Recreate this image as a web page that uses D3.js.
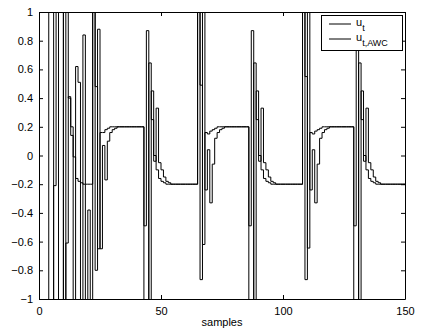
<!DOCTYPE html>
<html>
<head>
<meta charset="utf-8">
<script src="https://cdn.jsdelivr.net/npm/d3@7"></script>
<style>
  html, body { margin: 0; padding: 0; background: #fff; }
  svg { display: block; }
  text { font-family: "Liberation Sans", Arial, Helvetica, sans-serif; }
</style>
</head>
<body>
<svg id="chart" width="422" height="334"></svg>
<script>
// ---- data ----
const samples = d3.range(0, 151);

const u_t = [
  3, 3, 3, 3, 3, 3, -3, -3, 3, 3,
  -3, 3, 0.40, 0.2, -3, 0.62, 0.51, -3, 0.84, -3,
  -0.38, -3, 3, -0.8, 0.88, -0.65, 0.07, -0.17, 0.1, 0.16,
  0.18, 0.19, 0.2, 0.2, 0.2, 0.2, 0.2, 0.2, 0.2, 0.2,
  0.2, 0.2, 0.2, -0.49, 0.87, -3, 0.45, -0.04, 0.33, -0.05,
  -0.1, -0.15, -0.18, -0.19, -0.2, -0.2, -0.2, -0.2, -0.2, -0.2,
  -0.2, -0.2, -0.2, -0.2, -0.2, 3, -0.865, 3, -0.24, 0.04,
  -0.33, -0.06, 0.12, 0.16, 0.18, 0.19, 0.2, 0.2, 0.2, 0.2,
  0.2, 0.2, 0.2, 0.2, 0.2, 0.2, -0.49, 0.87, -3, 0.45,
  -0.04, 0.33, -0.05, -0.1, -0.15, -0.18, -0.19, -0.2, -0.2, -0.2,
  -0.2, -0.2, -0.2, -0.2, -0.2, -0.2, -0.2, -0.2, 3, -0.865,
  3, -0.24, 0.04, -0.33, -0.06, 0.12, 0.16, 0.18, 0.19, 0.2,
  0.2, 0.2, 0.2, 0.2, 0.2, 0.2, 0.2, 0.2, 0.2, -0.49,
  0.87, -3, 0.45, -0.04, 0.33, -0.05, -0.1, -0.15, -0.18, -0.19,
  -0.2, -0.2, -0.2, -0.2, -0.2, -0.2, -0.2, -0.2, -0.2, -0.2,
  -0.2
];

const u_t_awc = [
  3, 3, 3, 3, -3, -3, -0.21, 3, 3, 3,
  -3, -0.61, 0.41, 0.14, -0.01, -0.16, -0.18, -0.19, -0.2, -0.2,
  -0.2, -0.2, 3, 0.48, -0.65, 0.16, 0.16, 0.18, 0.19, 0.2,
  0.2, 0.2, 0.2, 0.2, 0.2, 0.2, 0.2, 0.2, 0.2, 0.2,
  0.2, 0.2, 0.2, -3, -3, 0.645, 0.25, 0.0, -0.1, -0.16,
  -0.18, -0.19, -0.2, -0.2, -0.2, -0.2, -0.2, -0.2, -0.2, -0.2,
  -0.2, -0.2, -0.2, -0.2, -0.2, 3, 0.49, -0.62, 0.16, 0.15,
  0.17, 0.18, 0.19, 0.2, 0.2, 0.2, 0.2, 0.2, 0.2, 0.2,
  0.2, 0.2, 0.2, 0.2, 0.2, 0.2, -3, -3, 0.645, 0.25,
  0.0, -0.1, -0.16, -0.18, -0.19, -0.2, -0.2, -0.2, -0.2, -0.2,
  -0.2, -0.2, -0.2, -0.2, -0.2, -0.2, -0.2, -0.2, 3, 0.55,
  -0.645, 0.16, 0.15, 0.17, 0.18, 0.19, 0.2, 0.2, 0.2, 0.2,
  0.2, 0.2, 0.2, 0.2, 0.2, 0.2, 0.2, 0.2, 0.2, -3,
  -3, 0.645, 0.25, 0.0, -0.1, -0.16, -0.18, -0.19, -0.2, -0.2,
  -0.2, -0.2, -0.2, -0.2, -0.2, -0.2, -0.2, -0.2, -0.2, -0.2,
  -0.2
];

const xTicks = [0, 50, 100, 150];
const yTicks = [-1, -0.8, -0.6, -0.4, -0.2, 0, 0.2, 0.4, 0.6, 0.8, 1];
const xLabel = "samples";
const seriesNames = ["u", "u"];
const seriesSubs = ["t", "t,AWC"];

// ---- layout ----
const L = 39, R = 405, T = 12, B = 299;
const svg = d3.select("#chart");

const x = d3.scaleLinear().domain([0, 150]).range([L, R]);
const y = d3.scaleLinear().domain([-1, 1]).range([B, T]);

svg.append("defs").append("clipPath").attr("id", "plotclip")
  .append("rect").attr("x", L).attr("y", T).attr("width", R - L).attr("height", B - T);

const fmt = v => (v < 0 ? "\u2212" : "") + String(Math.abs(v));

const line = d3.line()
  .x((d, i) => x(samples[i]))
  .y(d => y(d))
  .curve(d3.curveStepAfter);

const plot = svg.append("g").attr("clip-path", "url(#plotclip)");
plot.append("path").datum(u_t)
  .attr("fill", "none").attr("stroke", "#000").attr("stroke-width", 1)
  .attr("d", line);
plot.append("path").datum(u_t_awc)
  .attr("fill", "none").attr("stroke", "#000").attr("stroke-width", 1)
  .attr("d", line);

// ---- axes ----
const axisStyle = g => {
  g.selectAll("text").attr("font-size", 11).attr("fill", "#000")
    .attr("font-family", "Liberation Sans, Arial, sans-serif");
  g.selectAll("line").attr("stroke", "#000");
  g.select(".domain").attr("stroke", "#000");
};

svg.append("g").attr("transform", `translate(0,${B})`)
  .call(d3.axisBottom(x).tickValues(xTicks).tickSize(-4).tickSizeOuter(0).tickPadding(8).tickFormat(fmt))
  .call(axisStyle);
svg.append("g").attr("transform", `translate(0,${T})`)
  .call(d3.axisTop(x).tickValues(xTicks).tickSize(-4).tickSizeOuter(0).tickFormat(""))
  .call(axisStyle);
svg.append("g").attr("transform", `translate(${L},0)`)
  .call(d3.axisLeft(y).tickValues(yTicks).tickSize(-4).tickSizeOuter(0).tickPadding(6).tickFormat(fmt))
  .call(axisStyle);
svg.append("g").attr("transform", `translate(${R},0)`)
  .call(d3.axisRight(y).tickValues(yTicks).tickSize(-4).tickSizeOuter(0).tickFormat(""))
  .call(axisStyle);

svg.selectAll(".domain").attr("fill", "none");

svg.append("text")
  .attr("x", (L + R) / 2).attr("y", 326)
  .attr("text-anchor", "middle").attr("font-size", 11).attr("fill", "#000")
  .text(xLabel);

// ---- legend ----
const lg = svg.append("g");
lg.append("rect").attr("x", 321.5).attr("y", 15.5).attr("width", 81).attr("height", 35)
  .attr("fill", "#fff").attr("stroke", "#000").attr("stroke-width", 1);
const rowsY = [24, 39];
seriesNames.forEach((n, i) => {
  lg.append("line").attr("x1", 329).attr("x2", 351).attr("y1", rowsY[i]).attr("y2", rowsY[i])
    .attr("stroke", "#000").attr("stroke-width", 1);
  const t = lg.append("text").attr("x", 356).attr("y", rowsY[i] + 2).attr("font-size", 11).attr("fill", "#000");
  t.append("tspan").text(n);
  t.append("tspan").attr("dy", 5).attr("font-size", 9).text(seriesSubs[i]);
});
</script>
</body>
</html>
